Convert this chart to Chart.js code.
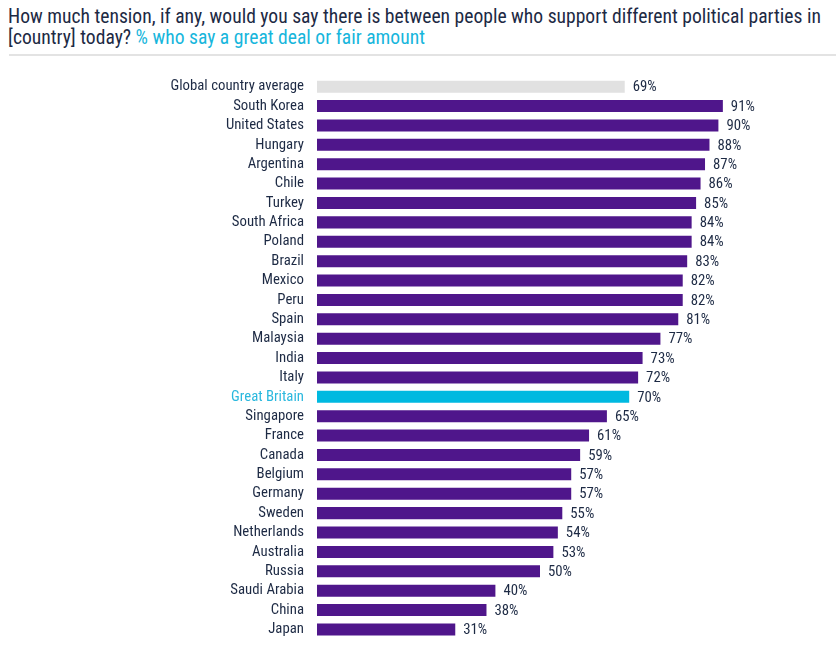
<!DOCTYPE html>
<html>
<head>
<meta charset="utf-8">
<script src="https://cdn.jsdelivr.net/npm/chart.js@4/dist/chart.umd.min.js"></script>
<style>
  html, body { margin: 0; padding: 0; background: #fff; }
  #wrap { position: relative; width: 836px; height: 649px; overflow: hidden; }
  #title {
    position: absolute; left: 8px; top: 6px; width: 828px; white-space: nowrap;
    font-family: "Roboto Condensed", "DejaVu Sans", sans-serif;
    font-size: 19.6px; line-height: 21px; color: #1d2a44;
  }
  #title .hl { color: #17b6dc; }
  #rule { position: absolute; left: 9px; right: 0; top: 54px; height: 2px; background: #e3e3e3; }
  canvas { position: absolute; left: 0; top: 0; }
</style>
</head>
<body>
<div id="wrap">
  <div id="title">How much tension, if any, would you say there is between people who support different political parties in<br>[country] today? <span class="hl">% who say a great deal or fair amount</span></div>
  <div id="rule"></div>
  <canvas id="chart" width="836" height="653"></canvas>
</div>
<script>
const countries = [
  'Global country average', 'South Korea', 'United States', 'Hungary', 'Argentina', 'Chile',
  'Turkey', 'South Africa', 'Poland', 'Brazil', 'Mexico', 'Peru', 'Spain', 'Malaysia',
  'India', 'Italy', 'Great Britain', 'Singapore', 'France', 'Canada', 'Belgium', 'Germany',
  'Sweden', 'Netherlands', 'Australia', 'Russia', 'Saudi Arabia', 'China', 'Japan'
];
const values = [69, 91, 90, 88, 87, 86, 85, 84, 84, 83, 82, 82, 81, 77, 73, 72, 70, 65, 61, 59, 57, 57, 55, 54, 53, 50, 40, 38, 31];

const PURPLE = '#4f168b';
const CYAN = '#00b9e0';
const GREY = '#e1e1e1';
const TEXT = '#1d2a44';
const FONT = '"Roboto Condensed", "DejaVu Sans", sans-serif';

const barColors = countries.map(c => c === 'Global country average' ? GREY : (c === 'Great Britain' ? CYAN : PURPLE));
const labelColors = countries.map(c => c === 'Great Britain' ? '#2ab8de' : TEXT);

// draws the "NN%" labels at the end of each bar
const valueLabels = {
  id: 'valueLabels',
  afterDatasetsDraw(chart) {
    const ctx = chart.ctx;
    const meta = chart.getDatasetMeta(0);
    ctx.save();
    ctx.font = '14.8px ' + FONT;
    ctx.fillStyle = TEXT;
    ctx.textBaseline = 'middle';
    meta.data.forEach((bar, i) => {
      ctx.fillText(values[i] + '%', bar.x + 8, bar.y + 1);
    });
    ctx.restore();
  }
};

new Chart(document.getElementById('chart'), {
  type: 'bar',
  data: {
    labels: countries,
    datasets: [{
      data: values,
      backgroundColor: barColors,
      borderWidth: 0,
      barPercentage: 0.62,
      categoryPercentage: 1
    }]
  },
  options: {
    indexAxis: 'y',
    responsive: false,
    animation: false,
    layout: { padding: { top: 77, right: 73, bottom: 0, left: 0 } },
    scales: {
      x: { display: false, min: 0, max: 100 },
      y: {
        grid: { display: false },
        border: { display: false },
        afterFit: s => { s.width = 317; },
        ticks: {
          autoSkip: false,
          padding: 5,
          color: labelColors,
          font: { family: FONT, size: 14.8 }
        }
      }
    },
    plugins: {
      legend: { display: false },
      tooltip: { enabled: false }
    }
  },
  plugins: [valueLabels]
});
</script>
</body>
</html>
